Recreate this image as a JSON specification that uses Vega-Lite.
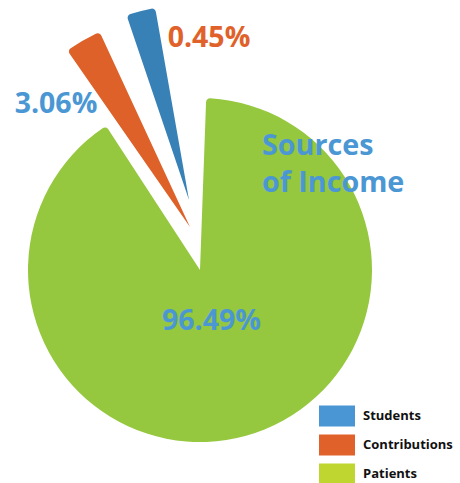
{
  "$schema": "https://vega.github.io/schema/vega-lite/v6.json",
  "width": 460,
  "height": 483,
  "autosize": {"type": "fit", "contains": "padding"},
  "padding": 0,
  "background": "white",
  "config": {"view": {"stroke": null}, "font": "Open Sans"},
  "data": {
    "values": [
      {"source": "Patients", "share": 0.9649},
      {"source": "Contributions", "share": 0.0306},
      {"source": "Students", "share": 0.0045}
    ]
  },
  "resolve": {"scale": {"theta": "independent"}},
  "layer": [
    {
      "transform": [{"filter": "datum.source === 'Patients'"}],
      "encoding": {
        "theta": {"field": "share", "type": "quantitative", "scale": {"domain": [0, 0.9649], "range": [0.036, 5.705]}}
      },
      "layer": [
        {"mark": {"type": "arc", "color": "#95c83e", "radius": 172, "cornerRadius": 4, "xOffset": -30, "yOffset": 28.5}},
        {
          "mark": {"type": "text", "radius": 0, "xOffset": -30, "yOffset": 28.5, "dx": 11.5, "dy": 50.5, "fontWeight": "bold", "fontSize": 28.5, "color": "#4b97d4", "align": "center", "baseline": "middle"},
          "encoding": {"text": {"field": "share", "type": "quantitative", "format": ".2%"}}
        },
        {
          "mark": {"type": "text", "text": ["Sources", "of Income"], "radius": 0, "xOffset": -30, "yOffset": 28.5, "dx": 62, "dy": -115, "fontWeight": "bold", "fontSize": 28.7, "lineHeight": 37, "color": "#4b97d4", "align": "left", "baseline": "alphabetic"}
        }
      ]
    },
    {
      "transform": [{"filter": "datum.source === 'Contributions'"}],
      "encoding": {
        "theta": {"field": "share", "type": "quantitative", "scale": {"domain": [0, 0.0306], "range": [5.676, 5.849]}}
      },
      "layer": [
        {"mark": {"type": "arc", "color": "#dd6128", "radius": 215, "cornerRadius": 4, "xOffset": -40, "yOffset": -14.5}},
        {
          "mark": {"type": "text", "radius": 0, "xOffset": -40, "yOffset": -14.5, "dx": -134, "dy": -123, "fontWeight": "bold", "fontSize": 28.5, "color": "#4b97d4", "align": "center", "baseline": "middle"},
          "encoding": {"text": {"field": "share", "type": "quantitative", "format": ".2%"}}
        }
      ]
    },
    {
      "transform": [{"filter": "datum.source === 'Students'"}],
      "encoding": {
        "theta": {"field": "share", "type": "quantitative", "scale": {"domain": [0, 0.0045], "range": [5.957, 6.109]}}
      },
      "layer": [
        {"mark": {"type": "arc", "color": "#3881b7", "radius": 195, "cornerRadius": 4, "xOffset": -41, "yOffset": -41.5}},
        {
          "mark": {"type": "text", "radius": 0, "xOffset": -41, "yOffset": -41.5, "dx": 20, "dy": -162.5, "fontWeight": "bold", "fontSize": 28.5, "color": "#e0622a", "align": "center", "baseline": "middle"},
          "encoding": {"text": {"field": "share", "type": "quantitative", "format": ".2%"}}
        }
      ]
    },
    {
      "mark": {"type": "square", "opacity": 0, "size": 0},
      "encoding": {
        "color": {
          "field": "source",
          "type": "nominal",
          "scale": {"domain": ["Students", "Contributions", "Patients"], "range": ["#4a96d4", "#e0622a", "#bfd630"]},
          "legend": {
            "title": null,
            "orient": "none",
            "legendX": 319,
            "legendY": 398,
            "padding": 0,
            "symbolType": "M-1,-0.58H1V0.58H-1Z",
            "symbolSize": 1296,
            "symbolOpacity": 1,
            "symbolStrokeWidth": 0,
            "labelFont": "Open Sans",
            "labelFontWeight": "bold",
            "labelFontSize": 13,
            "labelColor": "#111111",
            "labelOffset": 8,
            "rowPadding": -11
          }
        }
      }
    }
  ]
}
